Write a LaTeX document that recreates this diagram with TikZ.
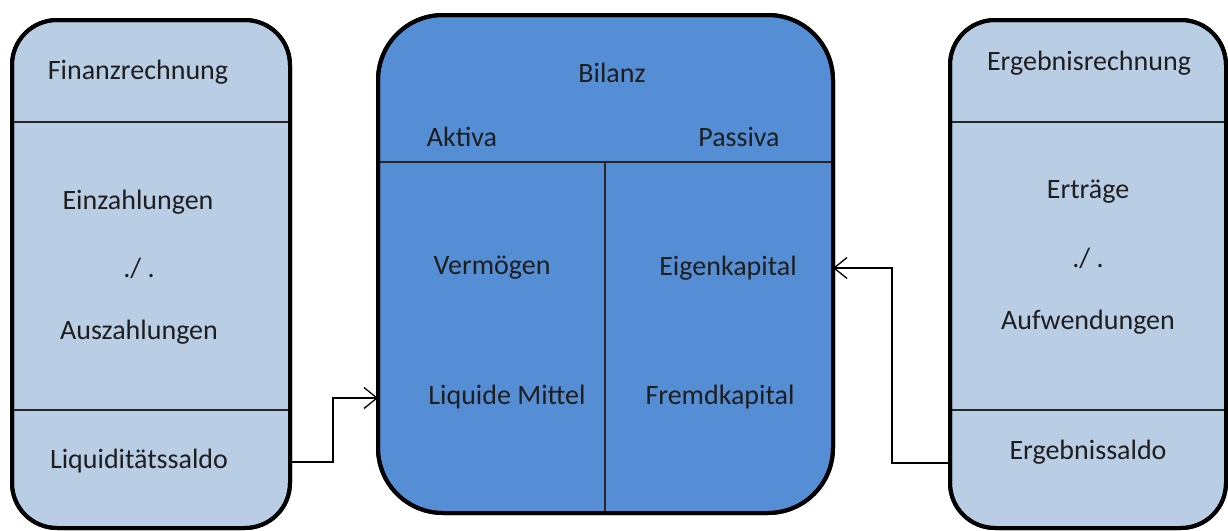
\documentclass[tikz,border=0pt]{standalone}
\usepackage{fontspec}
\setmainfont{Carlito}
\usetikzlibrary{arrows.meta}
\definecolor{lightbox}{HTML}{B9CDE5}
\definecolor{midbox}{HTML}{558ED5}
\definecolor{txt}{HTML}{1E1E1E}
\tikzset{
  panel/.style={draw=black, line width=4pt, rounded corners=#1, inner sep=0pt, outer sep=0pt},
  divline/.style={draw=black!85, line width=1.6pt},
  lbl/.style={text=txt, font=\fontsize{28}{33}\selectfont, inner sep=0pt, anchor=center},
  conn/.style={draw=black, line width=1.3pt, -{Straight Barb[length=13pt,width=21pt,line width=1.3pt]}}
}
\begin{document}
\begin{tikzpicture}[x=1pt,y=-1pt]
\useasboundingbox (0,0) rectangle (1228,530);
% boxes
\node[panel=45pt, fill=lightbox, minimum width=278pt, minimum height=508pt] (fin) at (151,274) {};
\node[panel=65pt, fill=midbox, minimum width=455pt, minimum height=498pt] (bil) at (605.5,264) {};
\node[panel=45pt, fill=lightbox, minimum width=276pt, minimum height=508pt] (erg) at (1088,274) {};
% divider lines
\draw[divline] (fin.west |- 0,122) -- (fin.east |- 0,122);
\draw[divline] (fin.west |- 0,410) -- (fin.east |- 0,410);
\draw[divline] (erg.west |- 0,122) -- (erg.east |- 0,122);
\draw[divline] (erg.west |- 0,410) -- (erg.east |- 0,410);
\draw[divline] (bil.west |- 0,162) -- (bil.east |- 0,162);
\draw[divline] (605,162) -- (605,513);
% redraw borders on top
\node[panel=45pt, minimum width=278pt, minimum height=508pt] at (151,274) {};
\node[panel=65pt, minimum width=455pt, minimum height=498pt] at (605.5,264) {};
\node[panel=45pt, minimum width=276pt, minimum height=508pt] at (1088,274) {};
% left texts
\node[lbl] (t1) at (138,72) {Finanzrechnung};
\node[lbl] (t2) at (138,202) {Einzahlungen};
\node[lbl] (t3) at (139,268) {./ .};
\node[lbl] (t4) at (139,332) {Auszahlungen};
\node[lbl] (liq) at (139,461) {Liquiditätssaldo};
% middle texts
\node[lbl] (m1) at (612,73) {Bilanz};
\node[lbl] (m2) at (462,137) {Aktiva};
\node[lbl] (m3) at (739,137) {Passiva};
\node[lbl] (m4) at (492,268) {Vermögen};
\node[lbl] (ek) at (728,268) {Eigenkapital};
\node[lbl] (lm) at (507,397) {Liquide Mittel};
\node[lbl] (m7) at (720,397) {Fremdkapital};
% right texts
\node[lbl] (r1) at (1089,63) {Ergebnisrechnung};
\node[lbl] (r2) at (1088,192) {Erträge};
\node[lbl] (r3) at (1088,258) {./ .};
\node[lbl] (r4) at (1088,322) {Aufwendungen};
\node[lbl] (es) at (1088,452) {Ergebnissaldo};
% connectors
\coordinate (a1) at (290,462);
\coordinate (a2) at (333,462);
\coordinate (a3) at (333,398);
\coordinate (a4) at (bil.west |- 0,398);
\draw[conn] (fin.east |- a1) -- (a2) -- (a3) -- (a4);
\coordinate (b2) at (892,463);
\coordinate (b3) at (892,268);
\draw[conn] (erg.west |- b2) -- (b2) -- (b3) -- (bil.east |- b3);
\end{tikzpicture}
\end{document}
